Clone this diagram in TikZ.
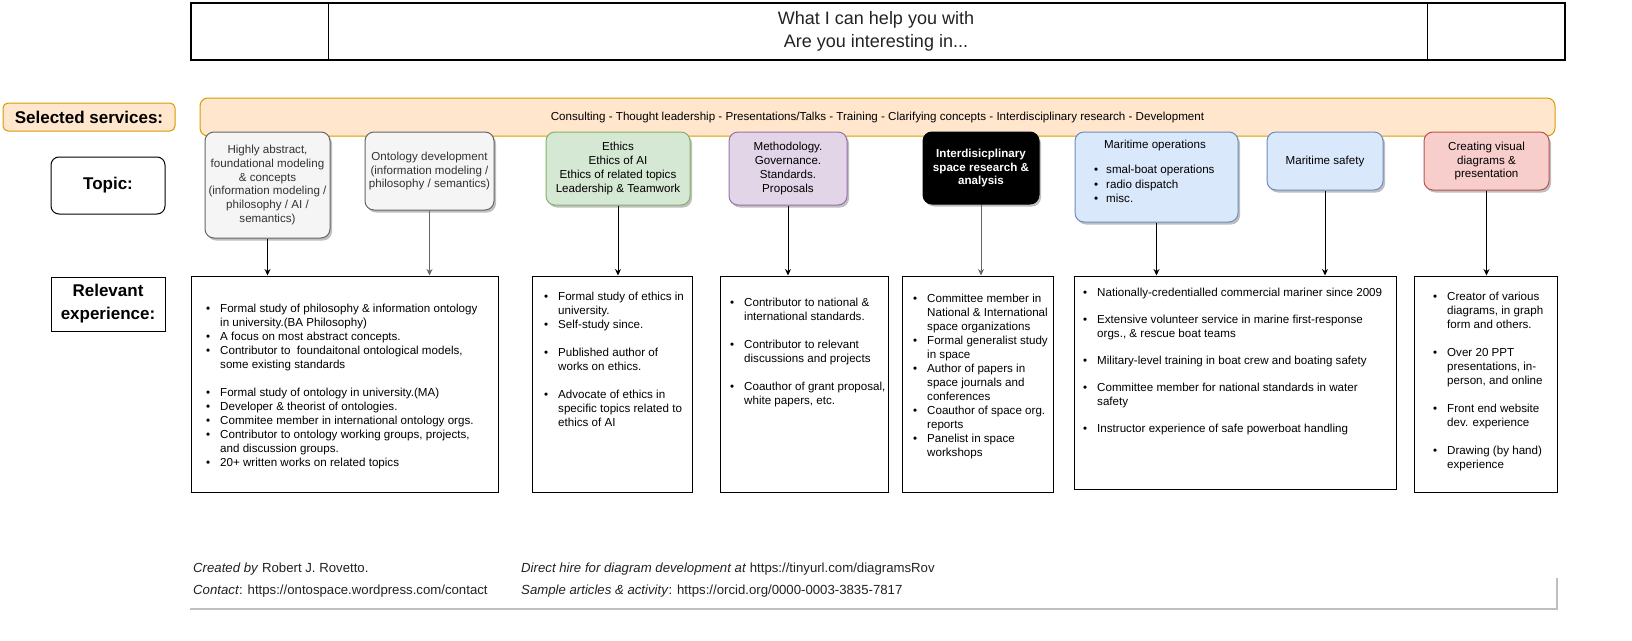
\documentclass[tikz,border=0pt]{standalone}
\usepackage{fontspec}
\setmainfont{Liberation Sans}
\usetikzlibrary{arrows.meta,shadows}
\definecolor{orF}{HTML}{FFE6CC}\definecolor{orD}{HTML}{D79B00}
\definecolor{grF}{HTML}{F5F5F5}\definecolor{grD}{HTML}{666666}\definecolor{grT}{HTML}{333333}
\definecolor{gnF}{HTML}{D5E8D4}\definecolor{gnD}{HTML}{82B366}
\definecolor{puF}{HTML}{E1D5E7}\definecolor{puD}{HTML}{9673A6}
\definecolor{blF}{HTML}{DAE8FC}\definecolor{blD}{HTML}{6C8EBF}
\definecolor{reF}{HTML}{F8CECC}\definecolor{reD}{HTML}{B85450}
\definecolor{ftT}{HTML}{222222}
\newcommand\bu{\makebox[14pt][l]{\textbullet}}
\newcommand\ind{\hspace*{14pt}}
\tikzset{
  lbl/.style={draw, line width=1pt, align=center, inner sep=0pt, font=\bfseries\fontsize{17}{23}\selectfont},
  topicbox/.style={draw, rounded corners=9pt, line width=1pt, align=center, inner sep=0pt,
    drop shadow={shadow xshift=2pt, shadow yshift=-2.5pt, opacity=0.25, fill=black},
    font=\fontsize{11.6}{13.8}\selectfont},
  expbox/.style={draw, line width=1pt, inner sep=0pt},
  exptext/.style={anchor=north west, inner sep=0pt, align=left, font=\fontsize{11.6}{14}\selectfont},
  arr/.style={-{Stealth[length=6.5pt,width=6pt]}, line width=1pt},
  grayarr/.style={arr, draw=grD, -{Stealth[length=6.5pt,width=6pt,fill=black]}},
  foot/.style={anchor=base west, inner sep=0pt, text=ftT, font=\fontsize{13.2}{16}\selectfont}
}
\begin{document}
\begin{tikzpicture}[x=1pt,y=-1pt]
\useasboundingbox (0,0) rectangle (1632,640);
% header
\node[draw, line width=1.2pt, minimum width=1374pt, minimum height=57pt, inner sep=0pt] (hdr) at (878,31.5) {};
\coordinate (d1) at (328,0);
\coordinate (d2) at (1427,0);
\draw[line width=1pt] (hdr.north -| d1) -- (hdr.south -| d1);
\draw[line width=1pt] (hdr.north -| d2) -- (hdr.south -| d2);
\node[align=center, inner sep=0pt, font=\fontsize{18}{23}\selectfont, text=ftT] (hdrtext) at (876,31) {What I can help you with\\Are you interesting in...};
% left labels
\node[lbl, fill=orF, draw=orD, rounded corners=5pt, minimum width=172pt, minimum height=28pt] (sel) at (89,117) {Selected services:};
\node[lbl, rounded corners=8pt, minimum width=114pt, minimum height=57pt] (topic) at (108,185.5) {Topic:};
\node[lbl, minimum width=114pt, minimum height=54pt] (rel) at (108,304) {Relevant\\experience:};
% services bar
\node[draw=orD, fill=orF, line width=1pt, rounded corners=8pt, minimum width=1355pt, minimum height=38pt, inner sep=0pt, font=\fontsize{11.6}{14}\selectfont] (svc) at (877.5,117) {Consulting - Thought leadership - Presentations/Talks - Training - Clarifying concepts - Interdisciplinary research - Development};
% topic boxes
\node[topicbox, fill=grF, draw=grD, text=grT, minimum width=125pt, minimum height=106pt] (t1) at (267.5,185) {Highly abstract,\\foundational modeling\\\& concepts\\(information modeling /\\philosophy / AI /\\semantics)};
\node[topicbox, fill=grF, draw=grD, text=grT, minimum width=129pt, minimum height=78pt] (t2) at (429.5,171) {Ontology development\\(information modeling /\\philosophy / semantics)};
\node[topicbox, fill=gnF, draw=gnD, minimum width=144pt, minimum height=73pt] (t3) at (618,168.5) {Ethics\\Ethics of AI\\Ethics of related topics\\Leadership \& Teamwork};
\node[topicbox, fill=puF, draw=puD, minimum width=118pt, minimum height=73pt] (t4) at (788,168.5) {Methodology.\\Governance.\\Standards.\\Proposals};
\node[topicbox, fill=black, draw=black, text=white, font=\bfseries\fontsize{11.6}{13.8}\selectfont, minimum width=116pt, minimum height=72pt] (t5) at (981,168) {Interdisicplinary\\space research \&\\analysis};
\node[topicbox, fill=blF, draw=blD, minimum width=163pt, minimum height=90pt] (t6) at (1156.5,177) {};
\node[inner sep=0pt, font=\fontsize{11.6}{14}\selectfont] (t6title) at (1155,145) {Maritime operations};
\node[exptext, font=\fontsize{11.6}{14.5}\selectfont] (t6list) at (1094,163.4) {\strut\makebox[12pt][l]{\textbullet}smal-boat operations\\\makebox[12pt][l]{\textbullet}radio dispatch\\\makebox[12pt][l]{\textbullet}misc.};
\node[topicbox, fill=blF, draw=blD, minimum width=116pt, minimum height=58pt] (t7) at (1325,161) {Maritime safety};
\node[topicbox, fill=reF, draw=reD, minimum width=125pt, minimum height=58pt] (t8) at (1486.5,161) {Creating visual\\diagrams \&\\presentation};
% experience boxes
\node[expbox, minimum width=307pt, minimum height=216pt] (e1) at (344.5,384) {};
\node[expbox, minimum width=160pt, minimum height=216pt] (e2) at (612,384) {};
\node[expbox, minimum width=168pt, minimum height=216pt] (e3) at (804,384) {};
\node[expbox, minimum width=151pt, minimum height=216pt] (e4) at (977.5,384) {};
\node[expbox, minimum width=322pt, minimum height=213pt] (e5) at (1235,382.5) {};
\node[expbox, minimum width=143pt, minimum height=216pt] (e6) at (1485.5,384) {};
% experience texts
\node[exptext] (x1) at (206,302.4) {\strut\bu Formal study of philosophy \& information ontology\\\ind in university.(BA Philosophy)\\\bu A focus on most abstract concepts.\\\bu Contributor to \ foundaitonal ontological models,\\\ind some existing standards\\[14pt]\bu Formal study of ontology in university.(MA)\\\bu Developer \& theorist of ontologies.\\\bu Commitee member in international ontology orgs.\\\bu Contributor to ontology working groups, projects,\\\ind and discussion groups.\\\bu 20+ written works on related topics};
\node[exptext] (x2) at (544,290.4) {\strut\bu Formal study of ethics in\\\ind university.\\\bu Self-study since.\\[14pt]\bu Published author of\\\ind works on ethics.\\[14pt]\bu Advocate of ethics in\\\ind specific topics related to\\\ind ethics of AI};
\node[exptext] (x3) at (730,296.4) {\strut\bu Contributor to national \&\\\ind international standards.\\[14pt]\bu Contributor to relevant\\\ind discussions and projects\\[14pt]\bu Coauthor of grant proposal,\\\ind white papers, etc.};
\node[exptext] (x4) at (913,292.4) {\strut\bu Committee member in\\\ind National \& International\\\ind space organizations\\\bu Formal generalist study\\\ind in space\\\bu Author of papers in\\\ind space journals and\\\ind conferences\\\bu Coauthor of space org.\\\ind reports\\\bu Panelist in space\\\ind workshops};
\node[exptext] (x5) at (1083,286.4) {\strut\bu Nationally-credentialled commercial mariner since 2009\\[13pt]\bu Extensive volunteer service in marine first-response\\\ind orgs., \& rescue boat teams\\[13pt]\bu Military-level training in boat crew and boating safety\\[13pt]\bu Committee member for national standards in water\\\ind safety\\[13pt]\bu Instructor experience of safe powerboat handling};
\node[exptext] (x6) at (1433,290.4) {\strut\bu Creator of various\\\ind diagrams, in graph\\\ind form and others.\\[14pt]\bu Over 20 PPT\\\ind presentations, in-\\\ind person, and online\\[14pt]\bu Front end website\\\ind dev. experience\\[14pt]\bu Drawing (by hand)\\\ind experience};
% arrows
\draw[arr] (t1.south) -- (t1.south |- e1.north);
\draw[grayarr] (t2.south) -- (t2.south |- e1.north);
\draw[arr] (t3.south) -- (t3.south |- e2.north);
\draw[arr] (t4.south) -- (t4.south |- e3.north);
\draw[grayarr] (t5.south) -- (t5.south |- e4.north);
\draw[arr] (t6.south) -- (t6.south |- e5.north);
\draw[arr] (t7.south) -- (t7.south |- e5.north);
\draw[arr] (t8.south) -- (t8.south |- e6.north);
% footer
\node[foot] (f1) at (193,572) {\textit{Created by} Robert J. Rovetto.};
\node[foot] (f2) at (193,594) {\textit{Contact}: https://ontospace.wordpress.com/contact};
\node[foot] (f3) at (521,572) {\textit{Direct hire for diagram development at} https://tinyurl.com/diagramsRov};
\node[foot] (f4) at (521,594) {\textit{Sample articles \& activity}: https://orcid.org/0000-0003-3835-7817};
\draw[black!25, line width=2.5pt] (1557,578) -- (1557,609) -- (190,609);
\end{tikzpicture}
\end{document}
